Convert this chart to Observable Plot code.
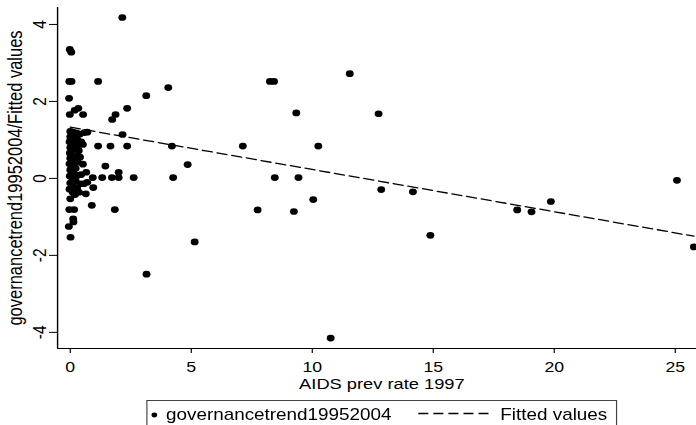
<!DOCTYPE html>
<html><head><meta charset="utf-8">
<script src="https://cdn.jsdelivr.net/npm/d3@7"></script>
<script src="https://cdn.jsdelivr.net/npm/@observablehq/plot@0.6"></script>
<style>
html,body{margin:0;padding:0;background:#fff;overflow:hidden;width:696px;height:425px}
#wrap{position:relative;width:590px;height:425px;transform:scaleX(1.18);transform-origin:0 0;font-family:"Liberation Sans",Arial,sans-serif}
#legend{position:absolute;left:123.7px;top:400px}
</style></head><body><div id="wrap"><div id="chart"></div><div id="legend"></div></div>
<script>
// AIDS prevalence rate 1997 (x) and governance trend 1995-2004 (y)
const aidsPrev = [
  2.15, -0.02, 0.04, -0.04, 0.05, 1.15, 4.05, 3.14, -0.05, 0.33,
  0.18, 2.35, -0.02, 0.53, 1.87, 1.73, 8.25, 8.42, 11.55, 9.34,
  12.74, 2.16, 0.58, 0.7, 1.15, 1.66, 2.35, 4.2, 7.13, 10.25,
  0.52, 4.85, 0.52, 1.45, 2.0, 0.66, 0.93, 1.32, 1.72, 2.0,
  2.62, 4.25, 8.45, 9.43, 10.04, 12.85, 14.16, 7.74, 9.24, 5.14,
  14.88, 10.76, 3.15, 18.47, 19.06, 19.86, 25.07, 25.77, 0.7, 0.43,
  0.56, 0.95, 0.64, 0.36, 0.0, 0.89, -0.04, 0.16, 1.84, 0.12,
  0.13, -0.06, 0.01,
  0.0, 0.1, 0.25, 0.0, 0.15, 0.3, -0.03, 0.12, 0.28, 0.0,
  0.15, 0.35, -0.02, 0.1, 0.25, 0.0, 0.15, 0.3, -0.03, 0.1,
  0.22, 0.0, 0.14, 0.3, -0.02, 0.1, 0.22, 0.0, 0.12, 0.28,
  -0.03, 0.1, 0.2, 0.45, 0.4, 0.45, 0.4
];
const govTrend = [
  4.18, 3.35, 3.28, 2.52, 2.52, 2.52, 2.36, 2.15, 2.08, 1.82,
  1.77, 1.82, 1.66, 1.66, 1.66, 1.53, 2.52, 2.52, 2.72, 1.7,
  1.68, 1.14, 1.19, 1.2, 0.84, 0.84, 0.84, 0.84, 0.84, 0.84,
  0.88, 0.36, 0.37, 0.32, 0.16, 0.16, 0.02, 0.02, 0.02, 0.02,
  0.02, 0.02, 0.02, 0.02, -0.55, -0.29, -0.35, -0.82, -0.86, -1.65,
  -1.48, -4.15, -2.49, -0.82, -0.87, -0.6, -0.05, -1.78, -0.1, -0.14,
  -0.14, -0.24, -0.4, -0.36, -0.53, -0.7, -0.81, -0.81, -0.81, -1.05,
  -1.13, -1.25, -1.53,
  1.22, 1.2, 1.18, 1.08, 1.05, 1.0, 0.95, 0.9, 0.85, 0.8,
  0.75, 0.72, 0.66, 0.6, 0.58, 0.52, 0.46, 0.42, 0.38, 0.32,
  0.26, 0.22, 0.12, 0.08, 0.06, -0.02, -0.06, -0.12, -0.2, -0.25,
  -0.28, -0.36, -0.42, 0.95, 0.55, 0.1, 1.15
];
// Fitted values (end points of the regression line)
const fittedX = [0, 25.77];
const fittedY = [1.33, -1.5];
const xTicks = [0, 5, 10, 15, 20, 25];
const yTicks = [-4, -2, 0, 2, 4];
const xDomain = [-0.525, 25.89];
const yDomain = [-4.42, 4.44];
const xTitle = "AIDS prev rate 1997";
const yTitle = "governancetrend19952004/Fitted values";
const legendLabels = ["governancetrend19952004", "Fitted values"];

const points = aidsPrev.map((x, i) => ({x, y: govTrend[i]}));
const fitted = fittedX.map((x, i) => ({x, y: fittedY[i]}));
const font = '"Liberation Sans", Arial, sans-serif';

const chart = Plot.plot({
  width: 590, height: 398,
  marginLeft: 48.3, marginRight: 0, marginTop: 7, marginBottom: 50,
  style: {fontFamily: font, fontSize: "16px", color: "#000", background: "#fff"},
  x: {domain: xDomain},
  y: {domain: yDomain},
  marks: [
    Plot.ruleX([xDomain[0]], {stroke: "#000", strokeWidth: 1.2}),
    Plot.ruleY([yDomain[0]], {stroke: "#000", strokeWidth: 1.2}),
    Plot.axisX(xTicks, {tickSize: 5, tickPadding: 7.5, label: null, fontSize: 15, tickFormat: d => String(d), stroke: "#000"}),
    Plot.axisY(yTicks, {tickSize: 6.8, tickPadding: 3.4, tickRotate: -90, label: null, fontSize: 15.5, tickFormat: d => String(d), stroke: "#000"}),
    Plot.text([xTitle], {frameAnchor: "bottom", dy: 36, dx: 4, lineAnchor: "middle", textAnchor: "middle", fontSize: 15.5, fill: "#000"}),
    Plot.text([yTitle], {frameAnchor: "left", rotate: -90, dx: -35.8, lineAnchor: "middle", textAnchor: "middle", fontSize: 16.5, fill: "#000"}),
    Plot.line(fitted, {x: "x", y: "y", stroke: "#000", strokeWidth: 1.3, strokeDasharray: "8.5,4.2"}),
    Plot.dot(points, {x: "x", y: "y", r: 3.35, fill: "#000", stroke: "none"})
  ]
});
document.getElementById("chart").appendChild(chart);

// Legend (Stata-style box below the plot)
const lg = d3.select("#legend").append("svg").attr("width", 400).attr("height", 30)
  .style("font-family", font).style("font-size", "16px");
lg.append("rect").attr("x", 0.5).attr("y", 0.5).attr("width", 398).attr("height", 40)
  .attr("fill", "none").attr("stroke", "#444").attr("stroke-width", 1);
lg.append("circle").attr("cx", 6.8).attr("cy", 15).attr("r", 2.4).attr("fill", "#000");
lg.append("text").attr("x", 16.7).attr("y", 20.5).text(legendLabels[0]);
lg.append("line").attr("x1", 230.5).attr("x2", 290).attr("y1", 13.5).attr("y2", 13.5)
  .attr("stroke", "#000").attr("stroke-width", 1.3).attr("stroke-dasharray", "8.5,4.25");
lg.append("text").attr("x", 300).attr("y", 20.5).text(legendLabels[1]);
</script></body></html>
